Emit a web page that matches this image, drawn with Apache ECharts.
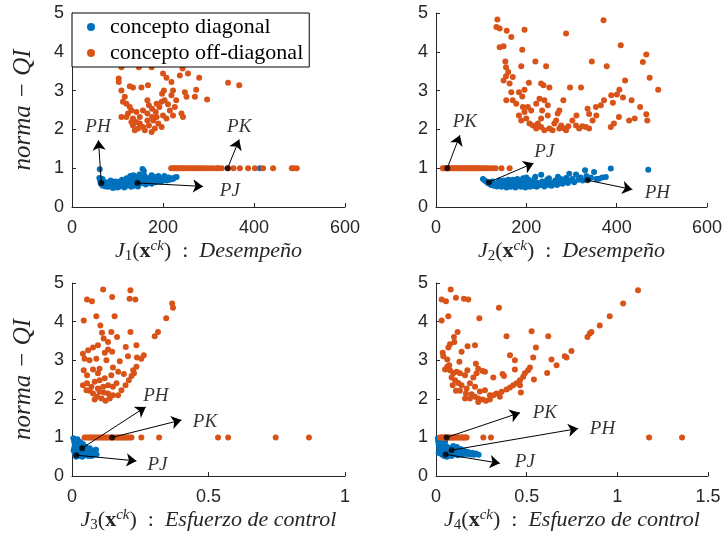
<!DOCTYPE html>
<html><head><meta charset="utf-8">
<script src="https://cdn.jsdelivr.net/npm/echarts@6/dist/echarts.min.js"></script>
<style>html,body{margin:0;padding:0;background:#fff}#c{width:725px;height:534px}</style>
</head><body><div id="c"></div>
<script>
// ---------- DATA ----------
var seriesNames = ['concepto diagonal', 'concepto off-diagonal'];
var yTicks = [0, 1, 2, 3, 4, 5];
var xTicks1 = [0, 200, 400, 600];
var xTicks3 = [0, 0.5, 1];
var xTicks4 = [0, 0.5, 1, 1.5];

// Panel 1: J1 vs norma-QI
var p1Blue = [[61,0.97],[60,0.75],[62,0.68],[63,0.62],[65,0.58],[67,0.72],[68,0.55],[70,0.65],[72,0.6],[74,0.53],[76,0.57],[78,0.63],[80,0.52],[82,0.58],[85,0.55],[88,0.62],[90,0.52],[92,0.57],[95,0.6],[97,0.54],[100,0.58],[102,0.65],[105,0.53],[107,0.6],[110,0.56],[112,0.63],[115,0.58],[117,0.68],[120,0.55],[122,0.62],[125,0.7],[127,0.58],[130,0.65],[132,0.75],[134,0.6],[135,0.82],[137,0.55],[140,0.7],[142,0.63],[145,0.78],[147,0.58],[150,0.68],[152,0.62],[155,0.72],[155,0.98],[158,0.93],[160,0.65],[162,0.58],[165,0.7],[168,0.62],[170,0.75],[172,0.66],[175,0.6],[178,0.7],[180,0.78],[183,0.64],[185,0.72],[188,0.66],[190,0.8],[192,0.7],[195,0.65],[198,0.74],[200,0.68],[203,0.8],[205,0.72],[208,0.68],[212,0.76],[215,0.7],[218,0.74],[222,0.72],[226,0.76],[230,0.77],[95,0.66],[85,0.68],[110,0.7],[120,0.74],[128,0.8],[138,0.76],[148,0.84],[160,0.8],[175,0.82],[90,0.49],[100,0.5],[115,0.5],[130,0.52],[145,0.53],[413,1.0]];
var p1Orange = [[102.7,3.31],[102.7,3.22],[108.6,3.6],[147,3.6],[175,3.6],[200,3.44],[207.6,3.33],[218.6,3.22],[237,3.39],[243,3.57],[255,3.44],[279.5,3.33],[127,3.11],[134,3.08],[152.6,3.08],[167,3.14],[198,2.92],[202,3.0],[222,3.0],[218.6,2.88],[248,2.96],[251.6,2.84],[270,2.84],[273,3.02],[297,2.77],[343,3.2],[367.5,3.14],[108.6,3.0],[116,2.84],[112,2.71],[119.6,2.66],[127,2.58],[130.6,2.49],[108.6,2.32],[119.6,2.32],[134,2.28],[123,2.41],[141.6,2.45],[149,2.32],[165.6,2.75],[169,2.62],[176,2.53],[184,2.45],[186,2.66],[192,2.58],[197,2.71],[203.6,2.75],[211,2.65],[215,2.49],[226,2.58],[229,2.75],[222,2.36],[240.6,2.41],[244,2.32],[200,2.36],[207.6,2.28],[186,2.32],[178.6,2.23],[189.6,2.15],[197,2.06],[169,2.1],[156,2.06],[145,2.02],[134,2.1],[130.6,2.19],[138,1.98],[160,1.98],[175,1.93],[182,2.02],[149,2.15],[165.6,2.23],[176,2.32],[141,2.19],[165.6,2.41],[156,2.49],
[218,1],[222,1],[226,1],[230,1],[234,1],[238,1],[242,1],[246,1],[250,1],[255,1],[260,1],[265,1],[270,1],[275,1],[280,1],[285,1],[290,1],[296,1],[303,1],[310,1],[318,1],[322,1],[329,1],[343,1],[355,1],[369,1],[387,1],[402,1],[420,1],[442,1],[483,1],[487,1],[494,1]];
var p1Marks = [['PH',64.5,0.62,58,1.72,57,2.06],['PJ',143.8,0.62,288,0.53,347,0.4],['PK',342,1.0,367.5,1.74,367.5,2.06]];

// Panel 2: J2 vs norma-QI
var p2Blue = [[104,0.72],[108,0.68],[112,0.65],[115,0.62],[118,0.6],[122,0.57],[125,0.66],[128,0.55],[132,0.6],[135,0.53],[138,0.64],[142,0.57],[145,0.52],[148,0.6],[150,0.68],[153,0.55],[156,0.5],[160,0.58],[163,0.64],[165,0.52],[168,0.6],[170,0.7],[173,0.55],[176,0.5],[180,0.62],[183,0.56],[185,0.68],[188,0.52],[190,0.6],[193,0.74],[195,0.55],[198,0.5],[200,0.64],[203,0.57],[205,0.7],[208,0.52],[210,0.6],[213,0.66],[215,0.54],[218,0.72],[220,0.58],[223,0.52],[226,0.62],[230,0.56],[233,0.83],[235,0.66],[238,0.58],[240,0.53],[243,0.62],[246,0.7],[250,0.57],[253,0.64],[256,0.55],[260,0.6],[264,0.68],[268,0.57],[272,0.63],[276,0.72],[280,0.6],[284,0.66],[288,0.75],[292,0.62],[295,0.86],[298,0.68],[302,0.72],[306,0.64],[310,0.84],[315,0.7],[320,0.76],[325,0.68],[330,0.95],[333,0.8],[338,0.72],[343,0.76],[350,0.9],[355,0.72],[361,0.73],[368,0.76],[376,0.77],[387,0.99],[470,0.96],[220,0.78],[250,0.74],[270,0.78],[200,0.76],[180,0.72],[160,0.7],[140,0.68]];
var p2Orange = [[135.9,4.83],[133.7,4.64],[141,4.6],[156.6,4.54],[196,4.57],[370.9,4.81],[288,4.47],[166.7,4.38],[141,4.12],[149.6,4.14],[191,4.05],[220,3.75],[243.8,3.63],[188.7,3.63],[153.5,3.75],[155,3.6],[345,3.75],[378,3.63],[409,4.17],[465.6,3.93],[458,3.74],[473,3.33],[492,3.02],[418.6,3.26],[406,3.02],[400.6,2.9],[388,2.88],[391.6,2.69],[414,2.82],[433,2.75],[452,2.58],[465.6,2.39],[467.8,2.23],[440,2.28],[427.6,2.23],[405,2.32],[394,2.15],[387,2.06],[372,2.75],[365,2.62],[354,2.58],[355,2.36],[346.6,2.23],[339,2.4],[335.6,2.53],[331.9,2.06],[321,3.08],[296.7,3.08],[282,2.75],[273,2.49],[269.5,2.41],[251,3.08],[232.8,3.18],[238,3.14],[205.6,3.2],[196,3.02],[170,3.35],[155,3.37],[149.6,3.26],[160,3.48],[163,3.18],[166.7,2.96],[183.6,2.96],[191,2.85],[155.7,2.75],[170,2.75],[177.7,2.66],[192.4,2.58],[203.4,2.58],[196,2.45],[210.8,2.49],[221.8,2.66],[229,2.79],[240,2.75],[247.5,2.62],[235,2.49],[183.6,2.36],[188.7,2.23],[199.8,2.28],[207,2.15],[214.5,2.1],[225.5,2.15],[232.8,2.06],[240,1.98],[251,2.02],[262,2.15],[266,2.23],[277,2.1],[284,2.02],[293,2.08],[302,2.23],[310,2.1],[317,2.02],[324,2.08],[339,2.02],[247.5,2.36],[232.8,2.28],[221.8,2.02],[258,1.98],[273,2.02],[288,1.98],[311,2.36],
[15,1],[18,1],[21,1],[24,1],[27,1],[30,1],[33,1],[36,1],[39,1],[42,1],[45,1],[48,1],[51,1],[54,1],[57,1],[60,1],[63,1],[66,1],[69,1],[72,1],[75,1],[78,1],[81,1],[84,1],[87,1],[90,1],[93,1],[96,1],[100,1],[104,1],[108,1],[112,1],[118,1],[125,1],[132,1],[145,1],[163,1]];
var p2Marks = [['PK',25,1.0,52.9,1.85,64,2.18],['PJ',117.5,0.64,216,1.13,240,1.42],['PH',335.6,0.69,434.8,0.45,490,0.36]];

// Panel 3: J3 vs norma-QI
var p3Blue = [[0.005,0.98],[0.008,0.9],[0.01,0.82],[0.012,0.75],[0.015,0.68],[0.01,0.6],[0.012,0.55],[0.02,0.95],[0.02,0.85],[0.022,0.72],[0.025,0.62],[0.025,0.52],[0.03,0.88],[0.03,0.78],[0.032,0.66],[0.035,0.58],[0.038,0.5],[0.04,0.83],[0.042,0.7],[0.045,0.6],[0.048,0.54],[0.05,0.76],[0.052,0.64],[0.055,0.56],[0.058,0.68],[0.06,0.52],[0.062,0.6],[0.065,0.72],[0.068,0.56],[0.07,0.63],[0.072,0.52],[0.075,0.58],[0.078,0.66],[0.08,0.55],[0.085,0.6],[0.088,0.68],[0.09,0.56],[0.018,0.58],[0.028,0.7],[0.036,0.75],[0.046,0.68],[0.015,0.5],[0.006,0.66],[0.008,0.72]];
var p3Orange = [[0.114,4.83],[0.214,4.81],[0.232,4.57],[0.211,4.59],[0.055,4.57],[0.073,4.53],[0.147,4.64],[0.367,4.47],[0.37,4.36],[0.043,4.03],[0.089,4.14],[0.156,4.14],[0.345,4.09],[0.104,3.9],[0.11,3.71],[0.144,3.73],[0.165,3.6],[0.214,3.73],[0.315,3.73],[0.303,3.62],[0.132,3.47],[0.116,3.56],[0.095,3.39],[0.077,3.33],[0.059,3.26],[0.04,3.17],[0.046,3.04],[0.064,3.0],[0.089,3.04],[0.12,3.19],[0.132,3.28],[0.147,3.22],[0.197,3.34],[0.236,3.39],[0.263,3.13],[0.238,3.07],[0.254,3.04],[0.205,3.1],[0.175,2.97],[0.15,2.81],[0.126,3.0],[0.101,2.78],[0.077,2.76],[0.043,2.74],[0.055,2.61],[0.095,2.66],[0.12,2.53],[0.144,2.61],[0.169,2.7],[0.19,2.64],[0.224,2.74],[0.236,2.83],[0.227,2.66],[0.218,2.59],[0.208,2.48],[0.196,2.35],[0.181,2.22],[0.169,2.09],[0.04,2.35],[0.055,2.4],[0.071,2.31],[0.083,2.44],[0.101,2.48],[0.065,2.21],[0.053,2.22],[0.077,2.14],[0.095,2.27],[0.114,2.31],[0.132,2.35],[0.15,2.31],[0.163,2.4],[0.092,2.05],[0.108,2.01],[0.123,1.95],[0.138,2.01],[0.15,2.09],[0.117,2.16],[0.132,2.14],[0.101,2.18],[0.083,1.98],
[0.046,1],[0.052,1],[0.059,1],[0.065,1],[0.071,1],[0.077,1],[0.083,1],[0.089,1],[0.095,1],[0.101,1],[0.108,1],[0.114,1],[0.12,1],[0.126,1],[0.132,1],[0.14,1],[0.147,1],[0.156,1],[0.163,1],[0.169,1],[0.175,1],[0.181,1],[0.187,1],[0.193,1],[0.2,1],[0.205,1],[0.212,1],[0.218,1],[0.254,1],[0.319,1],[0.535,1],[0.572,1],[0.746,1],[0.868,1]];
var p3Marks = [['PH',0.037,0.72,0.27,1.79,0.307,2.07],['PK',0.147,1.0,0.401,1.45,0.487,1.4],['PJ',0.016,0.54,0.236,0.39,0.313,0.28]];

// Panel 4: J4 vs norma-QI
var p4Blue = [[0.01,0.98],[0.012,0.9],[0.015,0.82],[0.018,0.75],[0.02,0.68],[0.022,0.62],[0.025,0.58],[0.03,0.95],[0.03,0.86],[0.032,0.72],[0.035,0.55],[0.04,0.8],[0.04,0.64],[0.045,0.52],[0.05,0.7],[0.055,0.6],[0.06,0.76],[0.065,0.54],[0.07,0.66],[0.075,0.58],[0.08,0.72],[0.085,0.52],[0.09,0.62],[0.095,0.78],[0.1,0.56],[0.105,0.68],[0.11,0.6],[0.115,0.75],[0.12,0.54],[0.125,0.65],[0.13,0.58],[0.135,0.7],[0.14,0.62],[0.145,0.55],[0.15,0.66],[0.155,0.6],[0.16,0.64],[0.17,0.57],[0.175,0.62],[0.18,0.6],[0.19,0.56],[0.2,0.6],[0.21,0.55],[0.22,0.58],[0.235,0.55],[0.025,0.7],[0.015,0.6],[0.05,0.88],[0.06,0.5]];
var p4Orange = [[0.081,4.83],[0.031,4.57],[0.055,4.53],[0.11,4.62],[0.154,4.59],[0.178,4.57],[0.347,4.36],[0.031,4.03],[0.068,4.14],[0.239,4.09],[1.114,4.81],[1.032,4.47],[0.958,4.14],[0.903,3.9],[0.857,3.73],[0.848,3.69],[0.835,3.6],[0.527,3.75],[0.619,3.62],[0.389,3.62],[0.119,3.73],[0.099,3.6],[0.101,3.47],[0.077,3.41],[0.174,3.36],[0.215,3.39],[0.068,3.33],[0.037,3.19],[0.04,3.1],[0.141,3.22],[0.129,2.96],[0.062,3.02],[0.22,2.91],[0.408,3.13],[0.435,3.0],[0.551,3.33],[0.536,3.07],[0.637,3.02],[0.665,2.87],[0.747,3.24],[0.71,3.1],[0.72,3.07],[0.613,2.67],[0.54,2.5],[0.518,2.81],[0.508,2.74],[0.49,2.66],[0.481,2.57],[0.463,2.48],[0.444,2.4],[0.426,2.35],[0.408,2.29],[0.389,2.24],[0.375,2.59],[0.367,2.64],[0.435,2.76],[0.463,2.35],[0.468,2.16],[0.334,2.14],[0.316,2.09],[0.316,2.55],[0.257,2.72],[0.27,2.7],[0.233,2.78],[0.224,2.66],[0.206,2.55],[0.173,2.74],[0.16,2.61],[0.132,2.66],[0.114,2.7],[0.095,2.66],[0.077,2.74],[0.05,2.76],[0.062,2.83],[0.073,2.87],[0.086,2.55],[0.105,2.48],[0.123,2.41],[0.141,2.35],[0.092,2.35],[0.11,2.21],[0.132,2.21],[0.169,2.27],[0.187,2.4],[0.215,2.31],[0.165,2.14],[0.196,2.12],[0.215,2.05],[0.233,2.01],[0.257,1.98],[0.275,1.95],[0.297,1.98],[0.233,1.92],[0.187,2.01],[0.16,2.01],[0.242,2.19],[0.27,2.22],[0.297,2.09],[0.352,2.05],[0.362,2.18],
[0.022,1],[0.03,1],[0.037,1],[0.044,1],[0.051,1],[0.058,1],[0.066,1],[0.073,1],[0.081,1],[0.088,1],[0.095,1],[0.102,1],[0.11,1],[0.118,1],[0.125,1],[0.132,1],[0.14,1],[0.147,1],[0.154,1],[0.162,1],[0.169,1],[0.261,1],[0.303,1],[1.175,1],[1.357,1]];
var p4Marks = [['PK',0.059,1.0,0.463,1.64,0.6,1.64],['PH',0.086,0.67,0.784,1.23,0.918,1.22],['PJ',0.053,0.56,0.352,0.33,0.49,0.36]];

var xNames = [
  '{i|J}{s|1}{n|(}{b|x}{p|ck}{n|)  :  }{i|Desempeño}',
  '{i|J}{s|2}{n|(}{b|x}{p|ck}{n|)  :  }{i|Desempeño}',
  '{i|J}{s|3}{n|(}{b|x}{p|ck}{n|)  :  }{i|Esfuerzo de control}',
  '{i|J}{s|4}{n|(}{b|x}{p|ck}{n|)  :  }{i|Esfuerzo de control}'
];
var yName = 'norma − QI';

// ---------- CHART ----------
var BLUE = '#0072BD', ORANGE = '#D95319', AX = '#262626';
var SERIF = "'Liberation Serif','DejaVu Serif',serif";
var SANS = "'Liberation Sans',Arial,sans-serif";
var grids = [
  {left: 72, top: 13, width: 273, height: 194},
  {left: 436, top: 13, width: 272, height: 194},
  {left: 72, top: 283, width: 273, height: 193},
  {left: 436, top: 283, width: 272, height: 193}
];
var xRanges = [[0,600,200],[0,600,200],[0,1,0.5],[0,1.5,0.5]];
var blues = [p1Blue, p2Blue, p3Blue, p4Blue];
var oranges = [p1Orange, p2Orange, p3Orange, p4Orange];
var marks = [p1Marks, p2Marks, p3Marks, p4Marks];

var richName = {
  i: {fontFamily: SERIF, fontStyle: 'italic', fontSize: 22, color: AX},
  n: {fontFamily: SERIF, fontSize: 22, color: AX},
  b: {fontFamily: SERIF, fontWeight: 'bold', fontSize: 22, color: AX},
  s: {fontFamily: SERIF, fontSize: 15, color: AX, padding: [10, 0, 0, 0]},
  p: {fontFamily: SERIF, fontStyle: 'italic', fontSize: 15, color: AX, padding: [0, 0, 10, 0]}
};

var xAxes = [], yAxes = [], series = [];
for (var k = 0; k < 4; k++) {
  xAxes.push({
    type: 'value', gridIndex: k, min: xRanges[k][0], max: xRanges[k][1], interval: xRanges[k][2],
    splitLine: {show: false},
    axisLine: {show: true, lineStyle: {color: AX, width: 1}},
    axisTick: {show: true, inside: true, length: 4, lineStyle: {color: AX}},
    axisLabel: {color: AX, fontFamily: SANS, fontSize: 18, margin: 12},
    name: xNames[k], nameLocation: 'middle', nameGap: 32,
    nameTextStyle: {rich: richName}
  });
  yAxes.push({
    type: 'value', gridIndex: k, min: 0, max: 5, interval: 1,
    splitLine: {show: false},
    axisLine: {show: true, lineStyle: {color: AX, width: 1}},
    axisTick: {show: true, inside: true, length: 4, lineStyle: {color: AX}},
    axisLabel: {color: AX, fontFamily: SANS, fontSize: 18, margin: 8},
    name: (k % 2 === 0) ? yName : '', nameLocation: 'middle', nameGap: 36, nameRotate: 90,
    nameTextStyle: {fontFamily: SERIF, fontStyle: 'italic', fontSize: 25, color: AX}
  });
  series.push({
    name: seriesNames[0], type: 'scatter', xAxisIndex: k, yAxisIndex: k,
    symbolSize: 6, itemStyle: {color: BLUE, opacity: 1}, data: blues[k], z: 2, silent: true
  });
  series.push({
    name: seriesNames[1], type: 'scatter', xAxisIndex: k, yAxisIndex: k,
    symbolSize: 6, itemStyle: {color: ORANGE, opacity: 1}, data: oranges[k], z: 3, silent: true
  });
  var m = marks[k];
  series.push({
    type: 'lines', coordinateSystem: 'cartesian2d', xAxisIndex: k, yAxisIndex: k,
    symbol: ['none', 'arrow'], symbolSize: [0, 10], silent: true, z: 4,
    lineStyle: {color: '#000', width: 1, opacity: 1, curveness: 0},
    data: m.map(function (r) { return {coords: [[r[1], r[2]], [r[3], r[4]]]}; })
  });
  series.push({
    type: 'scatter', xAxisIndex: k, yAxisIndex: k, symbolSize: 6, z: 5, silent: true,
    itemStyle: {color: '#000'},
    data: m.map(function (r) { return [r[1], r[2]]; })
  });
  series.push({
    type: 'scatter', xAxisIndex: k, yAxisIndex: k, symbolSize: 0, z: 5, silent: true,
    label: {show: true, position: 'inside', formatter: '{b}', fontFamily: SERIF, fontStyle: 'italic', fontSize: 19, color: '#000'},
    data: m.map(function (r) { return {name: r[0], value: [r[5], r[6]]}; })
  });
}

var chart = echarts.init(document.getElementById('c'), null, {renderer: 'canvas'});
chart.setOption({
  animation: false,
  backgroundColor: '#fff',
  grid: grids,
  xAxis: xAxes,
  yAxis: yAxes,
  legend: {
    data: seriesNames, orient: 'vertical', left: 72, top: 13, z: 10,
    backgroundColor: '#fff', borderColor: '#000', borderWidth: 1,
    padding: [3, 6, 3, 15], itemGap: 4, itemWidth: 8, itemHeight: 8,
    icon: 'circle',
    textStyle: {fontFamily: SERIF, fontSize: 22, color: '#000', padding: [0, 0, 0, 10]}
  },
  series: series
});
</script></body></html>
